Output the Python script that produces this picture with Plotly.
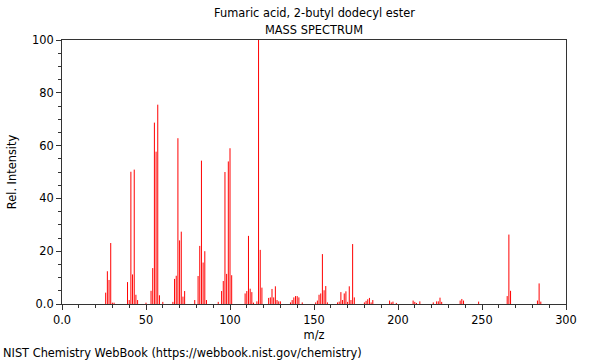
import plotly.graph_objects as go

mz = [26, 27, 28, 29, 30, 31, 39, 40, 41, 42, 43, 44, 45, 50, 53, 54, 55, 56, 57, 58,
      60, 66, 67, 68, 69, 70, 71, 72, 73, 79, 81, 82, 83, 84, 85, 86, 93, 95, 96, 97,
      98, 99, 100, 101, 109, 110, 111, 112, 113, 114, 116, 117, 118, 119, 123, 124, 125,
      126, 127, 128, 129, 130, 136, 137, 138, 139, 140, 141, 143, 151, 152, 153, 154,
      155, 156, 157, 158, 164, 165, 166, 167, 168, 169, 170, 171, 172, 173, 174, 180,
      181, 182, 183, 184, 185, 195, 196, 197, 199, 209, 210, 211, 213, 221, 223, 224,
      225, 226, 237, 238, 239, 248, 265, 266, 267, 283, 284, 285]
intensity = [4.3, 12.4, 9.1, 23.1, 0.5, 0.5, 8.3, 1.5, 50.1, 11.2, 50.9, 3.5, 1.5, 0.5,
             5.0, 13.6, 68.7, 57.7, 75.5, 3.3, 0.8, 0.8, 9.5, 10.7, 62.8, 24.1, 27.4, 2.8,
             4.9, 1.5, 10.6, 22.0, 54.3, 15.7, 20.0, 1.5, 0.8, 4.9, 8.7, 50.0, 11.4, 54.0,
             59.0, 10.9, 4.0, 4.9, 25.8, 5.8, 4.5, 0.5, 1.0, 100.0, 20.5, 6.2, 2.3, 2.5,
             5.7, 2.5, 6.7, 1.5, 1.0, 1.0, 0.6, 1.5, 2.5, 3.0, 3.0, 2.5, 0.6, 0.6, 1.3,
             3.5, 4.0, 18.9, 5.2, 6.8, 0.6, 0.6, 0.9, 4.5, 1.5, 4.0, 4.8, 0.8, 6.7, 1.5,
             22.7, 2.5, 0.6, 1.2, 1.8, 2.3, 0.6, 1.5, 1.3, 0.6, 0.9, 0.4, 1.3, 0.8, 0.4,
             1.0, 0.6, 1.0, 1.0, 2.4, 0.8, 1.3, 1.9, 1.3, 0.9, 3.0, 26.3, 5.0, 1.3, 7.8, 0.9]

x_tickvals = [0, 50, 100, 150, 200, 250, 300]
x_ticktext = ["0.0", "50", "100", "150", "200", "250", "300"]
y_tickvals = [0, 20, 40, 60, 80, 100]
y_ticktext = ["0.0", "20", "40", "60", "80", "100"]

title_line1 = "Fumaric acid, 2-butyl dodecyl ester"
title_line2 = "MASS SPECTRUM"
footer = "NIST Chemistry WebBook (https://webbook.nist.gov/chemistry)"

FONT = "DejaVu Sans"
FS = 11.4
AX = "#333333"

# stick spectrum: one vertical segment per peak, built from the data lists
stick_x, stick_y = [], []
for m, h in zip(mz, intensity):
    stick_x += [m, m, None]
    stick_y += [0, h, None]

fig = go.Figure()
fig.add_trace(go.Scatter(
    x=stick_x, y=stick_y, mode="lines",
    line=dict(color="rgb(255,0,0)", width=1),
    showlegend=False, hoverinfo="skip",
))

fig.update_layout(
    width=600, height=360,
    margin=dict(l=62, r=34, t=40, b=56),
    paper_bgcolor="white", plot_bgcolor="white",
    font=dict(family=FONT, size=FS, color="black"),
)
fig.update_xaxes(
    range=[0, 300], showgrid=False, zeroline=False,
    showline=True, linecolor=AX, linewidth=1, mirror=True,
    ticks="outside", ticklen=5, tickcolor=AX,
    tickvals=x_tickvals, ticktext=x_ticktext,
    tickfont=dict(size=FS),
    minor=dict(dtick=10, ticks="outside", ticklen=3, tickcolor=AX),
    title=dict(text="m/z", font=dict(size=FS), standoff=5),
)
fig.update_yaxes(
    range=[0, 100], showgrid=False, zeroline=False,
    showline=True, linecolor=AX, linewidth=1, mirror=True,
    ticks="outside", ticklen=5, tickcolor=AX,
    tickvals=y_tickvals, ticktext=y_ticktext,
    tickfont=dict(size=FS),
    minor=dict(dtick=5, ticks="outside", ticklen=3, tickcolor=AX),
    title=dict(text="Rel. Intensity", font=dict(size=FS), standoff=12),
)

fig.add_annotation(text=title_line1, xref="paper", yref="paper", x=0.5, y=1,
                   xanchor="center", yanchor="middle",
                   yshift=27, showarrow=False, font=dict(size=FS))
fig.add_annotation(text=title_line2, xref="paper", yref="paper", x=0.5, y=1,
                   xanchor="center", yanchor="middle",
                   yshift=10, showarrow=False, font=dict(size=FS))
fig.add_annotation(text=footer, xref="paper", yref="paper", x=0, y=0,
                   xanchor="left", yanchor="middle", xshift=-61, yshift=-49,
                   showarrow=False, font=dict(size=FS))

fig.write_html("out.html", config={"displayModeBar": False},
               post_script="document.body.style.margin='0';document.body.style.padding='0';")
